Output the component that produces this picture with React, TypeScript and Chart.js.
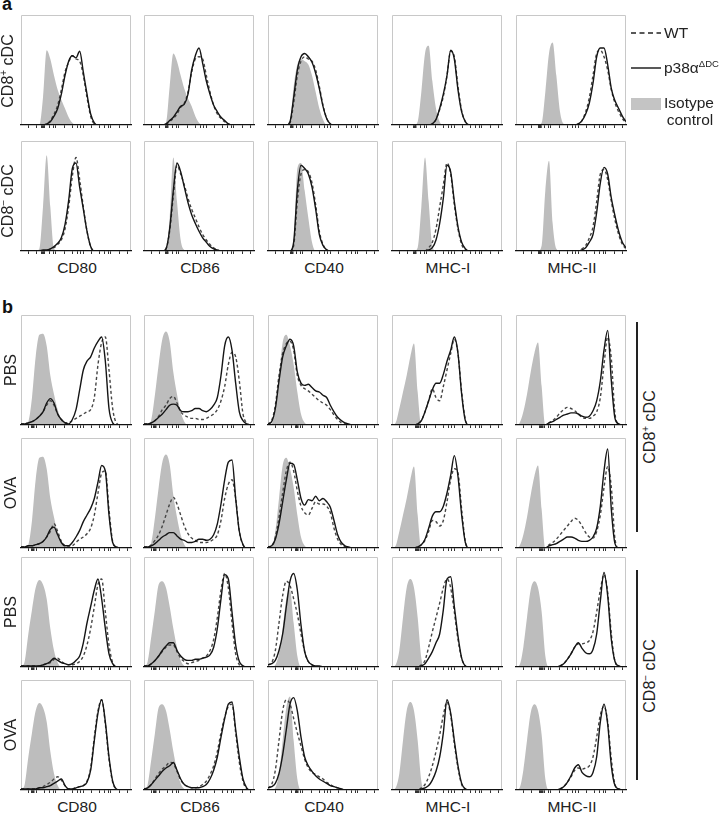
import React, { useEffect, useRef } from "react";
import { Chart, registerables } from "chart.js";
Chart.register(...registerables);

// ---------- shared axis data ----------
const BINS = [0,1,2,3,4,5,6,7,8,9,10,11,12,13,14,15,16,17,18,19,20,21,22,23,24,25,26,27,28,29,30];
const AXIS_TICKS = [2, 4.3, 6.5, 7.8, 8.8, 9.5, 11.8, 14, 15.3, 16.3, 17, 19.3, 21.5, 22.8, 23.8, 24.5, 26.8, 29];
const MARKERS = ["CD80", "CD86", "CD40", "MHC-I", "MHC-II"];
const ROWS_B = ["PBS", "OVA", "PBS", "OVA"];
const BLOB_A = [6.0, 6.2, 6.4, 6.1, 6.5];
const BLOB_B = [3.2, 3.0, 7.9, 7.0, 7.0];

// ---------- section a, CD8+ cDC ----------
const a1_CD80_iso = [0,0,0,0,0,0,25,68,60,45,32,23,15,7,2,0,0,0,0,0,0,0,0,0,0,0,0,0,0,0,0];
const a1_CD80_ko  = [0,0,0,0,0,0,0,1,3,8,15,28,45,58,63,61,67,48,28,10,2,0,0,0,0,0,0,0,0,0,0];
const a1_CD80_wt  = [0,0,0,0,0,0,0,1,4,10,18,32,48,57,63,60,58,45,25,8,1,0,0,0,0,0,0,0,0,0,0];
const a1_CD86_iso = [0,0,0,0,0,0,2,35,65,58,45,33,24,17,8,2,0,0,0,0,0,0,0,0,0,0,0,0,0,0,0];
const a1_CD86_ko  = [0,0,0,0,0,0,1,4,7,12,17,19,28,50,63,70,56,40,28,18,12,7,4,1,0,0,0,0,0,0,0];
const a1_CD86_wt  = [0,0,0,0,0,0,1,3,6,10,16,20,30,48,60,62,60,45,30,18,10,6,3,1,0,0,0,0,0,0,0];
const a1_CD40_iso = [0,0,0,0,0,0,3,35,55,60,58,55,45,30,15,5,0,0,0,0,0,0,0,0,0,0,0,0,0,0,0];
const a1_CD40_ko  = [0,0,0,0,0,0,3,25,50,62,65,62,57,47,33,17,6,1,0,0,0,0,0,0,0,0,0,0,0,0,0];
const a1_CD40_wt  = [0,0,0,0,0,0,2,20,45,58,62,60,58,50,35,18,6,1,0,0,0,0,0,0,0,0,0,0,0,0,0];
const a1_MHCI_iso = [0,0,0,0,0,0,0,3,30,65,72,40,15,3,0,0,0,0,0,0,0,0,0,0,0,0,0,0,0,0,0];
const a1_MHCI_ko  = [0,0,0,0,0,0,0,0,0,0,0,1,5,15,28,45,68,60,32,12,3,0,0,0,0,0,0,0,0,0,0];
const a1_MHCI_wt  = [0,0,0,0,0,0,0,0,0,0,0,1,5,14,26,45,67,62,35,13,3,0,0,0,0,0,0,0,0,0,0];
const a1_MHCII_iso = [0,0,0,0,0,0,0,2,30,65,75,45,12,1,0,0,0,0,0,0,0,0,0,0,0,0,0,0,0,0,0];
const a1_MHCII_ko  = [0,0,0,0,0,0,0,0,0,0,0,0,0,0,0,0,0,1,4,10,20,38,62,70,70,55,33,22,15,8,3];
const a1_MHCII_wt  = [0,0,0,0,0,0,0,0,0,0,0,0,0,0,0,0,0,1,4,12,25,45,65,68,62,50,32,20,12,6,2];

// ---------- section a, CD8- cDC ----------
const a2_CD80_iso = [0,0,0,0,0,2,40,87,40,2,0,0,0,0,0,0,0,0,0,0,0,0,0,0,0,0,0,0,0,0,0];
const a2_CD80_ko  = [0,0,0,0,0,0,1,1,2,4,7,12,24,46,75,80,58,38,18,4,0,0,0,0,0,0,0,0,0,0,0];
const a2_CD80_wt  = [0,0,0,0,0,0,0,0,2,3,6,10,20,40,68,85,65,40,18,4,0,0,0,0,0,0,0,0,0,0,0];
const a2_CD86_iso = [0,0,0,0,0,0,2,30,85,45,10,1,0,0,0,0,0,0,0,0,0,0,0,0,0,0,0,0,0,0,0];
const a2_CD86_ko  = [0,0,0,0,0,0,2,20,55,80,72,58,44,33,25,18,12,8,4,2,1,0,0,0,0,0,0,0,0,0,0];
const a2_CD86_wt  = [0,0,0,0,0,0,2,18,50,78,70,60,48,38,30,22,15,10,6,3,1,0,0,0,0,0,0,0,0,0,0];
const a2_CD40_iso = [0,0,0,0,0,0,0,10,75,80,55,30,8,0,0,0,0,0,0,0,0,0,0,0,0,0,0,0,0,0,0];
const a2_CD40_ko  = [0,0,0,0,0,0,0,8,55,78,75,70,58,38,15,5,1,0,0,0,0,0,0,0,0,0,0,0,0,0,0];
const a2_CD40_wt  = [0,0,0,0,0,0,0,5,45,70,74,72,62,42,18,6,1,0,0,0,0,0,0,0,0,0,0,0,0,0,0];
const a2_MHCI_iso = [0,0,0,0,0,0,0,3,40,85,45,5,0,0,0,0,0,0,0,0,0,0,0,0,0,0,0,0,0,0,0];
const a2_MHCI_ko  = [0,0,0,0,0,0,0,0,0,0,1,3,10,25,48,78,72,45,22,8,2,0,0,0,0,0,0,0,0,0,0];
const a2_MHCI_wt  = [0,0,0,0,0,0,0,0,0,0,3,8,20,40,60,80,70,42,20,6,1,0,0,0,0,0,0,0,0,0,0];
const a2_MHCII_iso = [0,0,0,0,0,0,0,5,55,82,25,2,0,0,0,0,0,0,0,0,0,0,0,0,0,0,0,0,0,0,0];
const a2_MHCII_ko  = [0,0,0,0,0,0,0,0,0,0,0,0,0,0,0,0,0,0,1,3,8,15,35,62,76,70,48,32,18,8,3];
const a2_MHCII_wt  = [0,0,0,0,0,0,0,0,0,0,0,0,0,0,0,0,0,0,2,5,12,22,45,70,74,65,45,28,15,6,2];

// ---------- section b, isotype controls ----------
const isoB_CD80_p  = [0,0,3,25,62,82,83,72,45,28,14,5,1,0,0,0,0,0,0,0,0,0,0,0,0,0,0,0,0,0,0];
const isoB_CD86_p  = [0,0,5,28,55,78,85,76,48,28,12,3,0,0,0,0,0,0,0,0,0,0,0,0,0,0,0,0,0,0,0];
const isoB_CD40_p  = [0,1,15,45,75,82,72,55,30,10,2,0,0,0,0,0,0,0,0,0,0,0,0,0,0,0,0,0,0,0,0];
const isoB_MHCI_p  = [0,2,15,30,45,62,74,30,0,0,0,0,0,0,0,0,0,0,0,0,0,0,0,0,0,0,0,0,0,0,0];
const isoB_MHCII_p = [0,2,12,28,48,65,75,35,0,0,0,0,0,0,0,0,0,0,0,0,0,0,0,0,0,0,0,0,0,0,0];
const isoB_CD80_n  = [0,5,30,52,72,79,75,62,35,15,4,0,0,0,0,0,0,0,0,0,0,0,0,0,0,0,0,0,0,0,0];
const isoB_CD86_n  = [0,5,28,52,75,78,72,55,35,18,6,1,0,0,0,0,0,0,0,0,0,0,0,0,0,0,0,0,0,0,0];
const isoB_CD40_n3 = [0,0,2,12,35,62,70,40,10,0,0,0,0,0,0,0,0,0,0,0,0,0,0,0,0,0,0,0,0,0,0];
const isoB_CD40_n4 = [0,0,2,15,45,75,85,45,10,0,0,0,0,0,0,0,0,0,0,0,0,0,0,0,0,0,0,0,0,0,0];
const isoB_MHCI_n  = [0,2,15,45,72,80,72,45,8,0,0,0,0,0,0,0,0,0,0,0,0,0,0,0,0,0,0,0,0,0,0];
const isoB_MHCII_n = [0,2,18,45,70,78,72,50,10,0,0,0,0,0,0,0,0,0,0,0,0,0,0,0,0,0,0,0,0,0,0];

// ---------- section b row 1: CD8+ PBS ----------
const b1_CD80_ko  = [1,1,2,3,5,8,12,20,24,20,10,5,2,1,5,14,32,50,58,62,70,76,80,58,15,2,0,0,0,0,0];
const b1_CD80_wt  = [1,1,2,3,5,8,12,18,22,18,10,5,2,2,4,6,8,10,12,14,25,55,75,80,50,15,2,0,0,0,0];
const b1_CD86_ko  = [1,1,2,4,7,10,14,18,19,18,13,12,12,13,15,15,13,12,14,18,25,45,72,80,68,38,12,4,1,0,0];
const b1_CD86_wt  = [1,1,2,4,8,14,18,24,26,20,12,9,7,6,6,5,5,6,8,10,14,22,35,55,66,62,40,10,2,0,0];
const b1_CD40_ko  = [1,3,15,40,62,72,78,72,48,38,36,37,34,31,30,27,25,18,12,7,4,2,1,0,0,0,0,0,0,0,0];
const b1_CD40_wt  = [1,4,18,45,65,74,76,68,45,36,33,31,28,25,22,20,18,14,9,5,2,1,0,0,0,0,0,0,0,0,0];
const b1_MHCI_ko  = [0,0,0,0,0,0,0,1,4,12,22,32,38,38,46,58,68,80,65,28,4,0,0,0,0,0,0,0,0,0,0];
const b1_MHCI_wt  = [0,0,0,0,0,0,0,1,4,12,22,33,25,22,35,50,65,78,65,30,5,0,0,0,0,0,0,0,0,0,0];
const b1_MHCII_ko = [0,0,0,0,0,0,0,0,0,2,3,5,7,9,10,11,11,10,8,7,8,13,22,40,68,86,40,6,1,0,0];
const b1_MHCII_wt = [0,0,0,0,0,0,0,0,0,2,4,7,11,14,16,15,13,10,7,6,6,8,12,25,55,80,60,10,1,0,0];

// ---------- section b row 2: CD8+ OVA ----------
const b2_CD80_ko  = [1,1,2,2,3,4,6,10,17,19,12,5,2,2,5,10,16,24,30,36,45,60,75,70,30,5,1,0,0,0,0];
const b2_CD80_wt  = [1,1,2,2,3,4,6,10,15,22,15,6,2,1,2,5,8,10,13,18,30,50,68,70,35,6,1,0,0,0,0];
const b2_CD86_ko  = [1,1,2,4,7,10,12,14,14,11,8,7,5,5,6,8,8,7,8,12,22,40,62,78,80,45,15,3,0,0,0];
const b2_CD86_wt  = [1,1,3,7,12,20,30,40,46,40,30,20,13,9,7,5,5,5,6,8,12,25,45,58,62,45,15,3,0,0,0];
const b2_CD40_ko  = [1,2,8,22,42,62,77,76,62,45,39,44,43,47,43,45,42,37,25,12,5,2,1,0,0,0,0,0,0,0,0];
const b2_CD40_wt  = [1,2,10,28,50,70,78,70,52,38,32,30,36,42,40,40,38,32,18,8,3,1,0,0,0,0,0,0,0,0,0];
const b2_MHCI_ko  = [0,0,0,0,0,0,0,1,3,8,18,29,33,33,38,50,66,84,65,30,5,0,0,0,0,0,0,0,0,0,0];
const b2_MHCI_wt  = [0,0,0,0,0,0,0,1,3,7,15,25,24,20,25,42,62,72,68,35,6,0,0,0,0,0,0,0,0,0,0];
const b2_MHCII_ko = [0,0,0,0,0,0,0,0,0,2,3,4,6,8,10,10,9,7,6,6,7,10,18,38,70,90,35,4,0,0,0];
const b2_MHCII_wt = [0,0,0,0,0,0,0,0,0,3,5,8,12,16,20,24,27,25,20,14,10,9,15,30,55,74,55,8,0,0,0];

// ---------- section b row 3: CD8- PBS ----------
const b3_CD80_ko  = [1,1,1,1,1,1,2,3,5,8,6,4,3,2,3,6,10,22,40,55,70,80,62,35,12,3,0,0,0,0,0];
const b3_CD80_wt  = [1,1,1,1,1,1,2,3,4,7,8,5,3,2,2,3,5,10,20,35,55,75,80,50,20,4,0,0,0,0,0];
const b3_CD86_ko  = [1,1,3,6,10,15,19,22,22,15,10,7,6,6,7,7,8,9,11,18,35,62,84,80,50,20,5,1,0,0,0];
const b3_CD86_wt  = [1,1,3,6,10,14,18,20,20,14,8,5,3,4,5,6,8,10,15,25,45,70,85,72,40,12,2,0,0,0,0];
const b3_CD40_ko  = [2,3,6,15,30,55,78,85,70,38,14,5,2,1,1,0,0,0,0,0,0,0,0,0,0,0,0,0,0,0,0];
const b3_CD40_wt  = [2,4,15,40,65,78,74,62,48,30,14,5,2,1,0,0,0,0,0,0,0,0,0,0,0,0,0,0,0,0,0];
const b3_MHCI_ko  = [0,0,0,0,0,0,0,0,1,3,8,14,22,30,52,80,82,55,28,8,1,0,0,0,0,0,0,0,0,0,0];
const b3_MHCI_wt  = [0,0,0,0,0,0,0,0,2,6,18,32,45,58,72,80,72,50,25,8,1,0,0,0,0,0,0,0,0,0,0];
const b3_MHCII_ko = [0,0,0,0,0,0,0,0,0,0,0,0,1,3,7,12,18,22,17,13,12,16,30,60,86,65,25,5,1,0,0];
const b3_MHCII_wt = [0,0,0,0,0,0,0,0,0,0,0,0,1,3,7,12,18,21,21,22,24,32,50,70,84,68,30,5,1,0,0];

// ---------- section b row 4: CD8- OVA ----------
const b4_CD80_ko  = [1,1,1,1,1,2,2,3,4,6,8,10,4,1,1,2,3,4,7,18,45,70,82,62,30,8,1,0,0,0,0];
const b4_CD80_wt  = [1,1,1,1,1,2,3,5,7,10,12,9,4,1,1,2,3,4,8,20,48,72,82,60,28,7,1,0,0,0,0];
const b4_CD86_ko  = [1,2,5,9,13,17,20,22,25,18,10,5,3,2,2,2,3,5,10,18,30,48,65,78,80,55,30,10,2,0,0];
const b4_CD86_wt  = [1,2,5,10,15,19,22,25,24,17,9,5,3,2,2,3,5,8,14,22,35,52,66,76,78,52,25,8,1,0,0];
const b4_CD40_ko  = [2,3,6,15,32,55,78,84,72,48,30,22,17,13,10,8,6,4,3,2,1,0,0,0,0,0,0,0,0,0,0];
const b4_CD40_wt  = [2,5,18,45,72,82,78,65,52,40,28,20,16,14,12,10,7,5,3,2,1,0,0,0,0,0,0,0,0,0,0];
const b4_MHCI_ko  = [0,0,0,0,0,0,0,0,1,2,4,9,17,30,52,82,70,45,22,6,1,0,0,0,0,0,0,0,0,0,0];
const b4_MHCI_wt  = [0,0,0,0,0,0,0,0,2,5,12,22,35,50,68,80,68,42,20,5,1,0,0,0,0,0,0,0,0,0,0];
const b4_MHCII_ko = [0,0,0,0,0,0,0,0,0,0,0,0,1,3,7,13,20,23,16,13,12,16,30,62,78,60,22,4,1,0,0];
const b4_MHCII_wt = [0,0,0,0,0,0,0,0,0,0,0,0,1,3,7,12,18,20,19,20,22,30,48,68,76,62,28,5,1,0,0];

// ---------- layout ----------
const PANEL_LEFT = [21, 144, 268, 392, 516];
const PANEL_W = 110;
const PANEL_H = 110;
const ROW_TOP_A = [15, 141];
const ROW_TOP_B = [315, 438, 557, 680];
const FONT = '"Liberation Sans", Arial, Helvetica, sans-serif';

const SECTION_A = [
  [
    [a1_CD80_iso, a1_CD80_wt, a1_CD80_ko],
    [a1_CD86_iso, a1_CD86_wt, a1_CD86_ko],
    [a1_CD40_iso, a1_CD40_wt, a1_CD40_ko],
    [a1_MHCI_iso, a1_MHCI_wt, a1_MHCI_ko],
    [a1_MHCII_iso, a1_MHCII_wt, a1_MHCII_ko],
  ],
  [
    [a2_CD80_iso, a2_CD80_wt, a2_CD80_ko],
    [a2_CD86_iso, a2_CD86_wt, a2_CD86_ko],
    [a2_CD40_iso, a2_CD40_wt, a2_CD40_ko],
    [a2_MHCI_iso, a2_MHCI_wt, a2_MHCI_ko],
    [a2_MHCII_iso, a2_MHCII_wt, a2_MHCII_ko],
  ],
];

const SECTION_B = [
  [
    [isoB_CD80_p, b1_CD80_wt, b1_CD80_ko],
    [isoB_CD86_p, b1_CD86_wt, b1_CD86_ko],
    [isoB_CD40_p, b1_CD40_wt, b1_CD40_ko],
    [isoB_MHCI_p, b1_MHCI_wt, b1_MHCI_ko],
    [isoB_MHCII_p, b1_MHCII_wt, b1_MHCII_ko],
  ],
  [
    [isoB_CD80_p, b2_CD80_wt, b2_CD80_ko],
    [isoB_CD86_p, b2_CD86_wt, b2_CD86_ko],
    [isoB_CD40_p, b2_CD40_wt, b2_CD40_ko],
    [isoB_MHCI_p, b2_MHCI_wt, b2_MHCI_ko],
    [isoB_MHCII_p, b2_MHCII_wt, b2_MHCII_ko],
  ],
  [
    [isoB_CD80_n, b3_CD80_wt, b3_CD80_ko],
    [isoB_CD86_n, b3_CD86_wt, b3_CD86_ko],
    [isoB_CD40_n3, b3_CD40_wt, b3_CD40_ko],
    [isoB_MHCI_n, b3_MHCI_wt, b3_MHCI_ko],
    [isoB_MHCII_n, b3_MHCII_wt, b3_MHCII_ko],
  ],
  [
    [isoB_CD80_n, b4_CD80_wt, b4_CD80_ko],
    [isoB_CD86_n, b4_CD86_wt, b4_CD86_ko],
    [isoB_CD40_n4, b4_CD40_wt, b4_CD40_ko],
    [isoB_MHCI_n, b4_MHCI_wt, b4_MHCI_ko],
    [isoB_MHCII_n, b4_MHCII_wt, b4_MHCII_ko],
  ],
];

const framePlugin = {
  id: "frame",
  beforeDatasetsDraw(chart: any) {
    const { ctx, chartArea: a } = chart;
    ctx.save();
    ctx.strokeStyle = "#c8c8c8";
    ctx.lineWidth = 1;
    ctx.beginPath();
    ctx.moveTo(a.left + 0.5, a.bottom);
    ctx.lineTo(a.left + 0.5, a.top + 0.5);
    ctx.lineTo(a.right - 0.5, a.top + 0.5);
    ctx.lineTo(a.right - 0.5, a.bottom);
    ctx.stroke();
    ctx.restore();
  },
};

const PAD = 4;
const TICK_LEN = 3;

function Panel(props: { left: number; top: number; iso: number[]; wt: number[]; ko: number[]; blob: number }) {
  const { left, top, iso, wt, ko, blob } = props;
  const ref = useRef<HTMLCanvasElement>(null);
  useEffect(() => {
    const toXY = (arr: number[]) => arr.map((v, i) => ({ x: BINS[i], y: v }));
    const tickVals = [...AXIS_TICKS, blob].sort((p, q) => p - q);
    const chart = new Chart(ref.current as HTMLCanvasElement, {
      type: "line",
      data: {
        datasets: [
          {
            data: toXY(ko),
            borderColor: "#151515",
            borderWidth: 1.4,
            pointRadius: 0,
            fill: false,
            cubicInterpolationMode: "monotone",
          },
          {
            data: toXY(wt),
            borderColor: "#454545",
            borderWidth: 1.4,
            borderDash: [3, 2.5],
            pointRadius: 0,
            fill: false,
            cubicInterpolationMode: "monotone",
          },
          {
            data: toXY(iso),
            borderColor: "rgba(0,0,0,0)",
            borderWidth: 0,
            backgroundColor: "#bdbdbd",
            fill: "origin",
            pointRadius: 0,
            cubicInterpolationMode: "monotone",
          },
        ],
      } as any,
      options: {
        animation: false,
        responsive: false,
        maintainAspectRatio: false,
        events: [],
        layout: { padding: { left: PAD, right: PAD, top: PAD, bottom: 1 } },
        plugins: { legend: { display: false }, tooltip: { enabled: false } },
        scales: {
          x: {
            type: "linear",
            min: 0,
            max: 30,
            afterBuildTicks: (s: any) => {
              s.ticks = tickVals.map((v) => ({ value: v }));
            },
            ticks: { display: false },
            grid: {
              display: true,
              drawOnChartArea: false,
              drawTicks: true,
              tickLength: TICK_LEN,
              color: "#333",
              lineWidth: (c: any) => (c.tick && c.tick.value === blob ? 3.5 : 1),
            },
            border: { display: true, color: "#111", width: 1.3, z: 1 },
          },
          y: { display: false, min: 0, max: 100 },
        },
      } as any,
      plugins: [framePlugin],
    });
    return () => chart.destroy();
  }, [iso, wt, ko, blob]);
  const cw = PANEL_W + PAD * 2;
  const ch = PANEL_H + PAD + TICK_LEN + 1;
  return (
    <canvas
      ref={ref}
      width={cw}
      height={ch}
      style={{ position: "absolute", left: left - PAD, top: top - PAD, width: cw, height: ch }}
    />
  );
}

const textBase: React.CSSProperties = {
  position: "absolute",
  fontFamily: FONT,
  fontSize: 15.5,
  lineHeight: "16px",
  color: "#222",
  whiteSpace: "nowrap",
};

function Centered(props: { x: number; y: number; rotate?: boolean; children: React.ReactNode; size?: number }) {
  const { x, y, rotate, children, size } = props;
  const fs = size || 15.5;
  return (
    <div
      style={{
        ...textBase,
        fontSize: fs,
        lineHeight: `${Math.round(fs)}px`,
        left: x,
        top: y,
        transform: `translate(-50%, -50%)${rotate ? " rotate(-90deg)" : ""}`,
      }}
    >
      {children}
    </div>
  );
}

const supStyle: React.CSSProperties = { fontSize: 10, position: "relative", top: -6 };

function CD8Label(props: { sign: string }) {
  return (
    <span>
      CD8<span style={supStyle}>{props.sign}</span> cDC
    </span>
  );
}

export default function App() {
  return (
    <div style={{ position: "absolute", left: 0, top: 0, width: 723, height: 817, background: "#fff", overflow: "hidden" }}>
      {/* section letters */}
      <div style={{ ...textBase, left: 2, top: -5, fontSize: 18, lineHeight: "18px", fontWeight: "bold", color: "#111" }}>a</div>
      <div style={{ ...textBase, left: 2, top: 298, fontSize: 18, lineHeight: "18px", fontWeight: "bold", color: "#111" }}>b</div>

      {/* section a panels */}
      {SECTION_A.map((row, r) =>
        row.map((p, c) => (
          <Panel key={`a${r}${c}`} left={PANEL_LEFT[c]} top={ROW_TOP_A[r]} iso={p[0]} wt={p[1]} ko={p[2]} blob={BLOB_A[c]} />
        ))
      )}
      {/* section b panels */}
      {SECTION_B.map((row, r) =>
        row.map((p, c) => (
          <Panel key={`b${r}${c}`} left={PANEL_LEFT[c]} top={ROW_TOP_B[r]} iso={p[0]} wt={p[1]} ko={p[2]} blob={BLOB_B[c]} />
        ))
      )}

      {/* section a row labels */}
      <Centered x={9} y={71} rotate size={16}>
        <CD8Label sign="+" />
      </Centered>
      <Centered x={9} y={201} rotate size={16}>
        <CD8Label sign="−" />
      </Centered>

      {/* section b row labels */}
      {ROWS_B.map((t, r) => (
        <Centered key={`rb${r}`} x={11} y={ROW_TOP_B[r] + PANEL_H / 2} rotate size={16}>
          {t}
        </Centered>
      ))}

      {/* column labels */}
      {MARKERS.map((m, c) => (
        <Centered key={`ca${c}`} x={PANEL_LEFT[c] + PANEL_W / 2 + 1} y={268}>
          {m}
        </Centered>
      ))}
      {MARKERS.map((m, c) => (
        <Centered key={`cb${c}`} x={PANEL_LEFT[c] + PANEL_W / 2 + 1} y={807}>
          {m}
        </Centered>
      ))}

      {/* right group labels */}
      <div style={{ position: "absolute", left: 636, top: 322, width: 1.5, height: 210, background: "#222" }} />
      <div style={{ position: "absolute", left: 636, top: 570, width: 1.5, height: 210, background: "#222" }} />
      <Centered x={651} y={427} rotate size={16}>
        <CD8Label sign="+" />
      </Centered>
      <Centered x={651} y={676} rotate size={16}>
        <CD8Label sign="−" />
      </Centered>

      {/* legend */}
      <svg style={{ position: "absolute", left: 628, top: 25, overflow: "visible" }} width={36} height={90}>
        <line x1={3} y1={8} x2={33} y2={8} stroke="#222" strokeWidth={1.5} strokeDasharray="5,3.5" />
        <line x1={3} y1={43} x2={33} y2={43} stroke="#222" strokeWidth={1.5} />
        <rect x={3} y={73} width={30} height={12} fill="#c4c4c4" />
      </svg>
      <div style={{ ...textBase, left: 664, top: 25 }}>WT</div>
      <div style={{ ...textBase, left: 664, top: 60 }}>
        p38α<span style={{ fontSize: 9.5, position: "relative", top: -6 }}>ΔDC</span>
      </div>
      <Centered x={689} y={103}>Isotype</Centered>
      <Centered x={690} y={120}>control</Centered>
    </div>
  );
}
